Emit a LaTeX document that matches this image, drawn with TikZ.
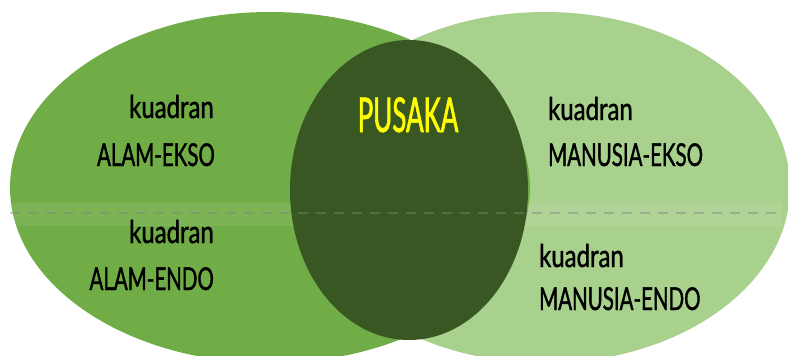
\documentclass[tikz,border=0pt]{standalone}
\usepackage{fontspec}
\setmainfont[FakeStretch=0.65,FakeBold=1.2]{Lato}
\newfontfamily\lowfont[FakeStretch=0.76,FakeBold=1.2]{Lato}
\newfontfamily\ttlfont[FakeStretch=0.54,FakeBold=1.2]{Lato}
\definecolor{gleft}{HTML}{70AD47}
\definecolor{gright}{HTML}{A9D18E}
\definecolor{gmid}{HTML}{385723}
\definecolor{ylw}{HTML}{FFFF00}
\begin{document}
\begin{tikzpicture}[x=1pt,y=-1pt,
  lbl/.style={inner sep=0pt,font=\fontsize{31.5}{34}\selectfont,text=black},
  low/.style={inner sep=0pt,font=\lowfont\fontsize{31.5}{34}\selectfont,text=black},
  ttl/.style={inner sep=0pt,font=\ttlfont\fontsize{48}{52}\selectfont,text=ylw}]
\useasboundingbox (0,0) rectangle (788,356);
\fill[gright] (545,187.5) ellipse [x radius=245,y radius=175.5];
\fill[gleft] (270,187.5) ellipse [x radius=260,y radius=175.5];
\fill[white,opacity=0.08] (10,203) rectangle (782,226);
\fill[gmid] (409,190) ellipse [x radius=119,y radius=150];
% dashed line
\coordinate (d1) at (10,213);
\coordinate (d2) at (782,213);
\draw[gray,opacity=0.45,line width=2.2,dash pattern=on 10 off 8] (d1) -- (d2);
\node[low,anchor=base east] (k1) at (214,118) {kuadran};
\node[lbl,anchor=base east] (a1) at (215,166) {ALAM-EKSO};
\node[low,anchor=base east] (k2) at (214,243) {kuadran};
\node[lbl,anchor=base east] (a2) at (214,290) {ALAM-ENDO};
\node[low,anchor=base west] (k3) at (548,120) {kuadran};
\node[lbl,anchor=base west] (m1) at (548,166) {MANUSIA-EKSO};
\node[low,anchor=base west] (k4) at (539,267) {kuadran};
\node[lbl,anchor=base west] (m2) at (539,310) {MANUSIA-ENDO};
\node[ttl,anchor=base] (p) at (408,132) {PUSAKA};
\end{tikzpicture}
\end{document}
